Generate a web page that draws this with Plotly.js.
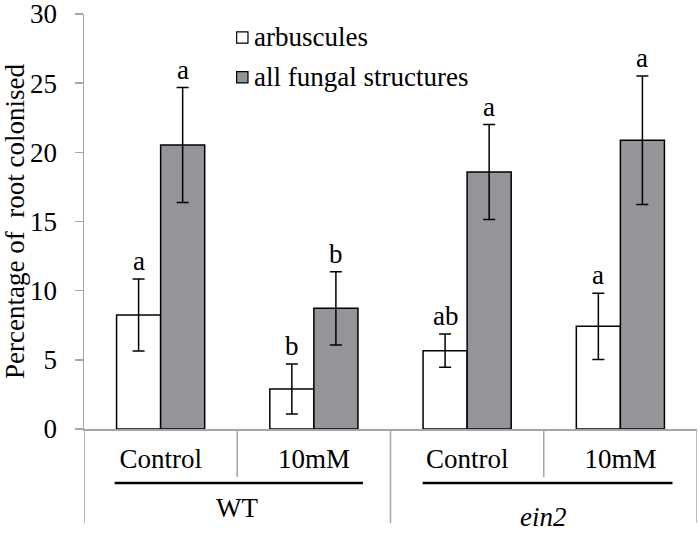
<!DOCTYPE html>
<html>
<head>
<meta charset="utf-8">
<script src="https://cdn.plot.ly/plotly-3.0.1.min.js"></script>
<style>html,body{margin:0;padding:0;background:#fff;}#chart{width:699px;height:541px;}</style>
</head>
<body>
<div id="chart"></div>
<script>
// ---- data ----
var categories = ["Control", "10mM", "Control", "10mM"];
var groups = ["WT", "<i>ein2</i>"];
var seriesNames = ["arbuscules", "all fungal structures"];
var arbuscules = [8.24, 2.89, 5.66, 7.42];
var arbusculesErr = [2.6, 1.8, 1.2, 2.4];
var allFungal = [20.53, 8.72, 18.58, 20.87];
var allFungalErr = [4.15, 2.65, 3.43, 4.65];
var arbLetters = ["a", "b", "ab", "a"];
var allLetters = ["a", "b", "a", "a"];
var yTicks = [0, 5, 10, 15, 20, 25, 30];

// ---- style ----
var FONT = "'Liberation Serif', 'Times New Roman', serif";
var FS = 27;
var GRAY_AX = "#a6a6a6";
var BAR_GRAY = "#939598";
var bargap = 0.425;
var xpos = categories.map(function (_, i) { return i; });
var half = (1 - bargap) / 4;
function f() { return { family: FONT, size: FS, color: "#000" }; }

var t1 = {
  type: "bar", x: xpos, name: seriesNames[0], y: arbuscules,
  marker: { color: "#ffffff", line: { color: "#000", width: 1.5 } },
  error_y: { type: "data", array: arbusculesErr, visible: true, color: "#000", thickness: 1.5, width: 6 },
  showlegend: false, hoverinfo: "skip"
};
var t2 = {
  type: "bar", x: xpos, name: seriesNames[1], y: allFungal,
  marker: { color: BAR_GRAY, line: { color: "#000", width: 1.5 } },
  error_y: { type: "data", array: allFungalErr, visible: true, color: "#000", thickness: 1.5, width: 6 },
  showlegend: false, hoverinfo: "skip"
};

var annotations = [];
xpos.forEach(function (x, i) {
  annotations.push({ x: x - half, y: arbuscules[i] + arbusculesErr[i], text: arbLetters[i],
    showarrow: false, xanchor: "center", yanchor: "bottom", yshift: 1, font: f() });
  annotations.push({ x: x + half, y: allFungal[i] + allFungalErr[i], text: allLetters[i],
    showarrow: false, xanchor: "center", yanchor: "bottom", yshift: 1, font: f() });
});
// group labels
annotations.push({ x: 0.5, xref: "x", y: -0.19, yref: "paper", text: groups[0], showarrow: false,
  xanchor: "center", yanchor: "middle", font: f() });
annotations.push({ x: 2.5, xref: "x", y: -0.212, yref: "paper", text: groups[1], showarrow: false,
  xanchor: "center", yanchor: "middle", font: f() });
// legend texts
annotations.push({ x: 0.2736, xref: "paper", y: 0.9446, yref: "paper", text: seriesNames[0], showarrow: false,
  xanchor: "left", yanchor: "middle", font: f() });
annotations.push({ x: 0.2736, xref: "paper", y: 0.848, yref: "paper", text: seriesNames[1], showarrow: false,
  xanchor: "left", yanchor: "middle", font: f() });

var shapes = [];
// dividers below axis
[[-0.5, -0.2265], [0.5, -0.1157], [1.5, -0.2265], [2.5, -0.1157], [3.5, -0.2265]].forEach(function (d) {
  shapes.push({ type: "line", xref: "x", yref: "paper", x0: d[0], x1: d[0], y0: 0, y1: d[1],
    line: { color: GRAY_AX, width: 1.5 } });
});
// group underlines
shapes.push({ type: "line", xref: "x", yref: "paper", x0: -0.30, x1: 1.32, y0: -0.130, y1: -0.130, line: { color: "#000", width: 2.5 } });
shapes.push({ type: "line", xref: "x", yref: "paper", x0: 1.71, x1: 3.34, y0: -0.130, y1: -0.130, line: { color: "#000", width: 2.5 } });
// legend swatches
shapes.push({ type: "rect", xref: "paper", yref: "paper", x0: 0.249, x1: 0.2675, y0: 0.930, y1: 0.957,
  fillcolor: "#ffffff", line: { color: "#000", width: 1.2 } });
shapes.push({ type: "rect", xref: "paper", yref: "paper", x0: 0.249, x1: 0.2675, y0: 0.834, y1: 0.861,
  fillcolor: BAR_GRAY, line: { color: "#000", width: 1.2 } });

var layout = {
  width: 699, height: 541,
  margin: { l: 84, r: 2, t: 14, b: 112 },
  paper_bgcolor: "#fff", plot_bgcolor: "#fff",
  barmode: "group", bargap: bargap, bargroupgap: 0,
  showlegend: false,
  font: f(),
  xaxis: {
    range: [-0.5, 3.5], tickmode: "array", tickvals: xpos, ticktext: categories,
    ticks: "", showline: true, linecolor: GRAY_AX, linewidth: 1.5,
    showgrid: false, zeroline: false, ticklabelstandoff: 5,
    ticklabeloverflow: "allow",
    tickfont: f(), fixedrange: true
  },
  yaxis: {
    range: [0, 30], tickmode: "array", tickvals: yTicks,
    ticks: "outside", ticklen: 8, tickcolor: GRAY_AX, tickwidth: 1.5,
    showline: true, linecolor: GRAY_AX, linewidth: 1.5,
    showgrid: false, zeroline: false, ticklabelstandoff: 12,
    ticklabeloverflow: "allow",
    tickfont: f(),
    title: { text: "Percentage of\u00a0 root colonised", standoff: 6, font: f() },
    fixedrange: true
  },
  annotations: annotations,
  shapes: shapes
};

Plotly.newPlot("chart", [t1, t2], layout, { displayModeBar: false, staticPlot: true });
</script>
</body>
</html>
